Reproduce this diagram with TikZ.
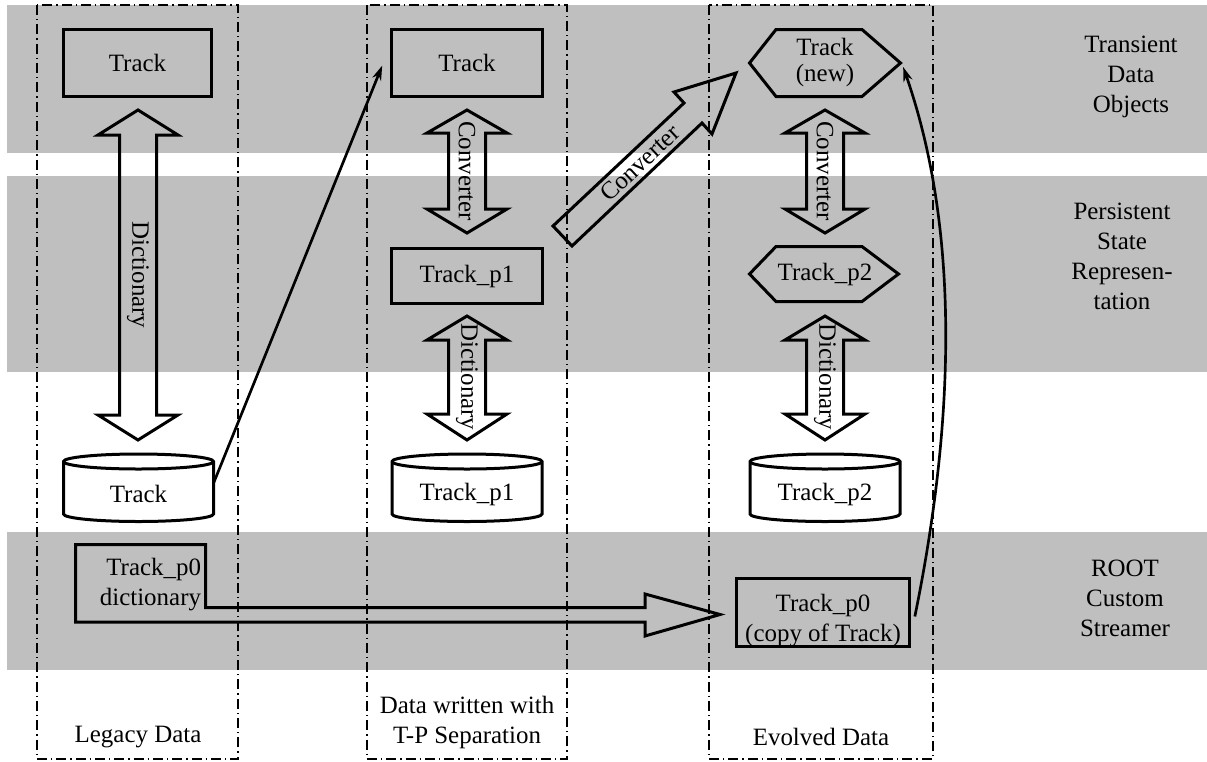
\documentclass[tikz,border=0pt]{standalone}
\usepackage{fontspec}
\setmainfont{Liberation Serif}
\usetikzlibrary{arrows.meta}
\definecolor{band}{RGB}{191,191,191}
\newcommand\dblarr[5]{%
  \draw[shp] ({#1},{#2}) -- ({#1+40},{#3}) -- ({#1+18.5},{#3}) -- ({#1+18.5},{#4}) -- ({#1+40},{#4}) -- ({#1},{#5})
    -- ({#1-40},{#4}) -- ({#1-18.5},{#4}) -- ({#1-18.5},{#3}) -- ({#1-40},{#3}) -- cycle;}
\newcommand\cylout[1]{%
  \draw[shp, fill=white] ({#1-75},461.5) -- ({#1-75},514) arc[start angle=180, end angle=0, x radius=75, y radius=7.5]
    -- ({#1+75},461.5) arc[start angle=0, end angle=-180, x radius=75, y radius=7.5] -- cycle;
  \draw[shp] ({#1-75},461.5) arc[start angle=180, end angle=0, x radius=75, y radius=7.5];}
\begin{document}
\begin{tikzpicture}[x=0.75pt,y=-0.75pt,
  every node/.style={font=\fontsize{18.7}{22.5}\selectfont, inner sep=0pt, outer sep=0pt},
  shp/.style={line width=2.25pt, line join=miter},
  boxed/.style={draw, shp, minimum height=50.25pt},
  colbox/.style={line width=1pt, dash pattern=on 7.5pt off 3pt on 1pt off 3pt},
  thinarr/.style={line width=2pt, -{Stealth[length=11pt,width=7pt]}},
  lbl/.style={align=center}]
\useasboundingbox (0,0) rectangle (1207,761);
% bands
\fill[band] (7,5) rectangle (1207,153);
\fill[band] (7,176) rectangle (1207,372);
\fill[band] (7,532) rectangle (1207,670);
% columns
\draw[colbox] (37,5) rectangle (238,759);
\draw[colbox] (367,5) rectangle (567,759);
\draw[colbox] (709,5) rectangle (933,759);
% transient objects
\node[boxed, minimum width=111pt] (tr1) at (137.5,63) {Track};
\node[boxed, minimum width=113.25pt] (tr2) at (467,63) {Track};
\draw[shp] (749.5,63) -- (776,29.5) -- (862,29.5) -- (900.5,63) -- (862,96.5) -- (776,96.5) -- cycle;
\node[lbl, font=\fontsize{18.7}{19.5}\selectfont, minimum width=113.25pt] (hexA) at (825,63) {Track\\(new)};
% persistent
\node[boxed, minimum width=113.25pt, minimum height=41.25pt] (tp1) at (467,276) {Track\_p1};
\draw[shp] (749.5,274) -- (776,246.5) -- (862,246.5) -- (898.5,274) -- (862,301.5) -- (776,301.5) -- cycle;
\node[minimum width=111.75pt] (tp2) at (825,274) {Track\_p2};
% cylinders
\cylout{138.5}
\cylout{467}
\cylout{825}
\node[minimum width=112.5pt] (c1) at (138.5,494) {Track};
\node[minimum width=112.5pt] (c2) at (467,494) {Track\_p1};
\node[minimum width=112.5pt] (c3) at (825,494) {Track\_p2};
% double arrows
\dblarr{138}{110}{135}{415}{440}
\dblarr{467}{110}{133}{209}{233}
\dblarr{467}{316}{340}{414}{440}
\dblarr{825}{110}{133}{209}{233}
\dblarr{825}{316}{340}{414}{440}
\node[rotate=-90] (d1) at (138,275) {Dictionary};
\node[rotate=-90] (cv2) at (467,171) {Converter};
\node[rotate=-90] (d2) at (467,377) {Dictionary};
\node[rotate=-90] (cv3) at (825,171) {Converter};
\node[rotate=-90] (d3) at (825,377) {Dictionary};
% diagonal converter
\draw[shp] (553,226) -- (684,103) -- (674,92) -- (736,73) -- (712,134) -- (702,123) -- (572,246) -- cycle;
\node[rotate=43] (cvd) at (640,163) {Converter};
% ROOT custom streamer
\draw[shp] (75.5,544.5) -- (205.5,544.5) -- (205.5,607.5) -- (645,607.5) -- (645,594) -- (720,614.5)
  -- (645,636) -- (645,622) -- (75.5,622) -- cycle;
\node[align=right, anchor=east] (dict0) at (201,585) {Track\_p0\\dictionary};
\node[boxed, minimum width=129.75pt, minimum height=51pt] (tp0) at (823,612.5) {};
\node[lbl] (tp0t) at (823,621) {Track\_p0\\(copy of Track)};
% thin arrows
\draw[thinarr] ([yshift=8pt]c1.east) -- ([xshift=-7pt,yshift=-2pt]tr2.west);
\draw[thinarr] ([xshift=4pt,yshift=-3pt]tp0.east) .. controls (955,420) and (960,230) .. ([xshift=2pt,yshift=-3pt]hexA.east);
% labels
\node[lbl] (l1) at (138,737) {Legacy Data};
\node[lbl] (l2) at (467,722) {Data written with\\T-P Separation};
\node[lbl] (l3) at (821,737) {Evolved Data};
\node[lbl] (r1) at (1131,77) {Transient\\Data\\Objects};
\node[lbl] (r2) at (1122,256) {Persistent\\State\\Represen-\\tation};
\node[lbl] (r3) at (1125,598) {ROOT\\Custom\\Streamer};
\end{tikzpicture}
\end{document}
